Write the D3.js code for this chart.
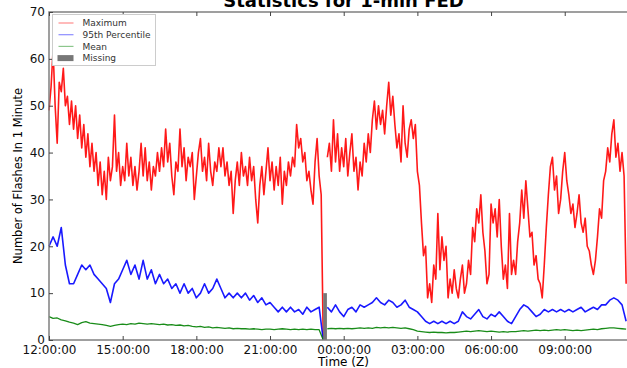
<!DOCTYPE html>
<html>
<head>
<meta charset="utf-8">
<script src="https://cdn.jsdelivr.net/npm/d3@7"></script>
<style>
body { margin: 0; background: #fff; overflow: hidden; }
svg { display: block; font-family: "DejaVu Sans", sans-serif; }
</style>
</head>
<body>
<svg id="chart" width="627" height="368"></svg>
<script>
var startTime = new Date("2015-06-01T12:00:00Z");
var endTime = new Date("2015-06-02T11:59:00Z");
var xTickHours = [0, 3, 6, 9, 12, 15, 18, 21];
var yTicks = [0, 10, 20, 30, 40, 50, 60, 70];

// maximum flashes, one value every 5 minutes
var maxStep = 5;
var maxValues = [
  49, 54, 62, 50, 42, 55, 53, 58, 50, 52, 46, 51,
  45, 50, 43, 48, 41, 46, 39, 44, 37, 42, 36, 40,
  33, 38, 31, 36, 30, 39, 34, 37, 48, 36, 40, 33,
  37, 34, 42, 35, 39, 33, 37, 32, 36, 42, 35, 41,
  34, 38, 32, 37, 35, 40, 36, 41, 37, 45, 38, 42,
  35, 31, 38, 36, 45, 37, 41, 34, 39, 37, 40, 30,
  35, 40, 43, 36, 39, 34, 42, 36, 33, 38, 36, 41,
  37, 41, 35, 38, 33, 36, 27, 34, 38, 33, 40, 35,
  37, 33, 39, 34, 37, 30, 25, 33, 37, 31, 36, 41,
  34, 38, 32, 37, 33, 39, 29, 36, 33, 38, 35, 39,
  37, 46, 41, 43, 38, 40, 34, 36, 32, 29, 38, 43,
  35, 31, 0, null, 39, 42, 36, 47, 38, 44, 36, 41,
  37, 43, 35, 40, 44, 36, 39, 32, 38, 35, 42, 38,
  44, 40, 47, 51, 45, 50, 46, 49, 44, 50, 55, 48,
  52, 46, 41, 44, 38, 50, 42, 39, 45, 47, 43, 46,
  36, 33, 25, 18, 20, 9, 12, 8, 16, 13, 27, 15,
  22, 17, 20, 9, 13, 10, 15, 11, 9, 13, 16, 10,
  12, 17, 14, 24, 21, 28, 25, 31, 23, 19, 12, 14,
  29, 25, 28, 22, 30, 20, 13, 16, 11, 27, 14, 17,
  14, 21, 25, 32, 26, 34, 28, 22, 23, 16, 18, 13,
  12, 9, 16, 24, 31, 37, 39, 32, 35, 27, 30, 36,
  40, 34, 31, 27, 29, 24, 27, 31, 25, 23, 26, 20,
  19, 16, 14, 17, 22, 28, 26, 34, 36, 41, 38, 44,
  47, 39, 42, 36, 40, 35, 12
];

// 95th percentile, every 10 minutes
var pctStep = 10;
var pctValues = [
  20, 22, 20, 24, 16, 12,
  12, 14, 16, 15, 16, 14,
  13, 12, 11, 8, 12, 13,
  15, 17, 14, 16, 13, 17,
  13, 15, 12, 14, 12, 13,
  11, 12, 10, 12, 10, 11,
  9, 10, 12, 10, 11, 13,
  11, 9, 10, 9, 10, 9,
  10, 8.5, 9.5, 8, 9, 7.5,
  8, 7, 6, 7, 6, 7,
  6, 6.5, 5.5, 7, 6, 6.5,
  7, 0, 7, 6, 7.5, 6,
  5, 6.5, 7, 6, 7.5, 7,
  7.5, 8, 9, 8, 7.5, 8.5,
  8, 7, 7.5, 8.5, 7, 6.5,
  6, 5, 4, 3.5, 4, 3.5,
  4, 3.5, 4, 3.5, 4, 6,
  5, 4.5, 5.5, 6.5, 5, 4.5,
  5.5, 5, 6, 5, 4, 3.5,
  5, 6.5, 7.5, 7, 6, 5,
  5.5, 6.5, 6, 6.5, 6, 6.5,
  6, 6.5, 6, 6.5, 7, 6,
  6.5, 7, 6.5, 7.5, 7.5, 8.5,
  9, 8.5, 7.5, 4
];

// mean, every 10 minutes
var meanStep = 10;
var meanValues = [
  5.0, 4.6, 4.7, 4.3, 4.1, 3.8,
  3.6, 3.3, 3.7, 3.9, 3.6, 3.5,
  3.4, 3.3, 3.1, 2.9, 3.1, 3.3,
  3.4, 3.3, 3.5, 3.4, 3.6, 3.5,
  3.4, 3.5, 3.4, 3.3, 3.4, 3.2,
  3.3, 3.1, 3.2, 3.0, 3.1, 2.9,
  2.8, 2.9, 2.7, 2.8, 2.6, 2.7,
  2.6, 2.5, 2.6, 2.4, 2.5, 2.4,
  2.4, 2.3, 2.4, 2.3, 2.2, 2.3,
  2.3, 2.2, 2.3, 2.4, 2.3, 2.2,
  2.3, 2.2, 2.3, 2.2, 2.3, 2.2,
  2.2, 0, 2.4, 2.5, 2.4, 2.5,
  2.4, 2.5, 2.4, 2.5, 2.6, 2.5,
  2.6, 2.5, 2.7, 2.6, 2.7, 2.6,
  2.7, 2.6, 2.5, 2.6, 2.4, 2.2,
  1.9, 1.8, 1.7, 1.6, 1.7, 1.6,
  1.6, 1.5, 1.6, 1.6, 1.7, 1.8,
  1.9, 1.8, 1.9, 2.0, 1.9, 1.8,
  1.9, 1.8, 1.7, 1.8, 1.7, 1.8,
  1.8, 1.9, 2.0, 1.9, 2.0, 2.1,
  2.0, 2.1, 2.0, 2.1, 2.2, 2.1,
  2.2, 2.1, 2.0, 2.1, 2.0, 2.1,
  2.2, 2.3, 2.2, 2.4, 2.5, 2.6,
  2.6, 2.5, 2.4, 2.3
];

// data gap
var missingStart = new Date("2015-06-01T23:10:00Z");
var missingEnd = new Date("2015-06-01T23:19:00Z");
var missingHeight = 10;

var seriesNames = ["Maximum", "95th Percentile", "Mean"];
var seriesColors = ["#ff0000", "#0000ff", "#008000"];
var seriesWidths = [1.6, 1.6, 1.3];

var svg = d3.select("svg#chart");
var margin = { top: 12, left: 49, bottom: 340, right: 638 };

var x = d3.scaleUtc()
  .domain([startTime, endTime])
  .range([margin.left, margin.right]);
var y = d3.scaleLinear()
  .domain([0, 70])
  .range([margin.bottom, margin.top]);

function toPoints(values, step) {
  return values.map(function(v, i) {
    return { t: new Date(startTime.getTime() + i * step * 60000), v: v };
  });
}

var series = [
  toPoints(maxValues, maxStep),
  toPoints(pctValues, pctStep),
  toPoints(meanValues, meanStep)
];

var line = d3.line()
  .defined(function(d) { return d.v != null; })
  .x(function(d) { return x(d.t); })
  .y(function(d) { return y(d.v); });

var plot = svg.append("g");

series.forEach(function(pts, k) {
  // split the line at the missing period
  var before = pts.filter(function(d) { return d.t <= missingStart; });
  var after = pts.filter(function(d) { return d.t >= missingEnd; });
  [before, after].forEach(function(seg) {
    plot.append("path")
      .datum(seg)
      .attr("fill", "none")
      .attr("stroke", seriesColors[k])
      .attr("stroke-width", seriesWidths[k])
      .attr("stroke-opacity", 0.9)
      .attr("stroke-linejoin", "round")
      .attr("d", line);
  });
});

plot.append("rect")
  .attr("x", x(missingStart))
  .attr("y", y(missingHeight))
  .attr("width", x(missingEnd) - x(missingStart))
  .attr("height", y(0) - y(missingHeight))
  .attr("fill", "#777");

// frame
svg.append("rect")
  .attr("x", margin.left)
  .attr("y", margin.top)
  .attr("width", margin.right - margin.left)
  .attr("height", margin.bottom - margin.top)
  .attr("fill", "none")
  .attr("stroke", "#808080")
  .attr("stroke-width", 1.5);

var xTicks = xTickHours.map(function(h) {
  return new Date(startTime.getTime() + h * 3600000);
});

svg.append("g")
  .attr("transform", "translate(0," + margin.bottom + ")")
  .call(d3.axisBottom(x).tickValues(xTicks).tickSizeInner(-4).tickSizeOuter(0)
    .tickPadding(5).tickFormat(d3.utcFormat("%H:%M:%S")));
svg.append("g")
  .attr("transform", "translate(0," + margin.top + ")")
  .call(d3.axisTop(x).tickValues(xTicks).tickSizeInner(-4).tickSizeOuter(0)
    .tickFormat(""));
svg.append("g")
  .attr("transform", "translate(" + margin.left + ",0)")
  .call(d3.axisLeft(y).tickValues(yTicks).tickSizeInner(-4).tickSizeOuter(0)
    .tickPadding(4));

svg.selectAll(".domain").remove();
svg.selectAll(".tick line").attr("stroke", "#444");
svg.selectAll(".tick text")
  .attr("font-family", "DejaVu Sans, sans-serif")
  .attr("font-size", 12)
  .attr("fill", "#111");

svg.append("text")
  .attr("x", (margin.left + margin.right) / 2)
  .attr("y", 7)
  .attr("text-anchor", "middle")
  .attr("font-weight", "bold")
  .style("font-size", "18px")
  .text("Statistics for 1-min FED");

svg.append("text")
  .attr("x", (margin.left + margin.right) / 2)
  .attr("y", 366)
  .attr("text-anchor", "middle")
  .style("font-size", "12px")
  .text("Time (Z)");

svg.append("text")
  .attr("transform", "translate(18,176) rotate(-90)")
  .attr("dy", "0.35em")
  .attr("text-anchor", "middle")
  .style("font-size", "11.5px")
  .text("Number of Flashes In 1 Minute");

// legend
var legend = svg.append("g").attr("transform", "translate(52.5,14.5)");
legend.append("rect")
  .attr("width", 103)
  .attr("height", 51)
  .attr("fill", "#fff")
  .attr("stroke", "#ccc");

var entries = legend.selectAll("g.entry")
  .data(seriesNames.concat(["Missing"]))
  .enter()
  .append("g")
  .attr("class", "entry")
  .attr("transform", function(d, i) {
    return "translate(0," + (8.5 + i * 11.7) + ")";
  });

entries.each(function(d, i) {
  var e = d3.select(this);
  if (i < 3) {
    e.append("line")
      .attr("x1", 6).attr("x2", 21)
      .attr("stroke", seriesColors[i])
      .attr("stroke-opacity", 0.45)
      .attr("stroke-width", 1.2);
  } else {
    e.append("rect")
      .attr("x", 5).attr("y", -3)
      .attr("width", 16).attr("height", 6)
      .attr("fill", "#777");
  }
  e.append("text")
    .attr("x", 30)
    .attr("dy", "0.35em")
    .style("font-size", "9px")
    .attr("fill", "#333")
    .text(d);
});
</script>
</body>
</html>
